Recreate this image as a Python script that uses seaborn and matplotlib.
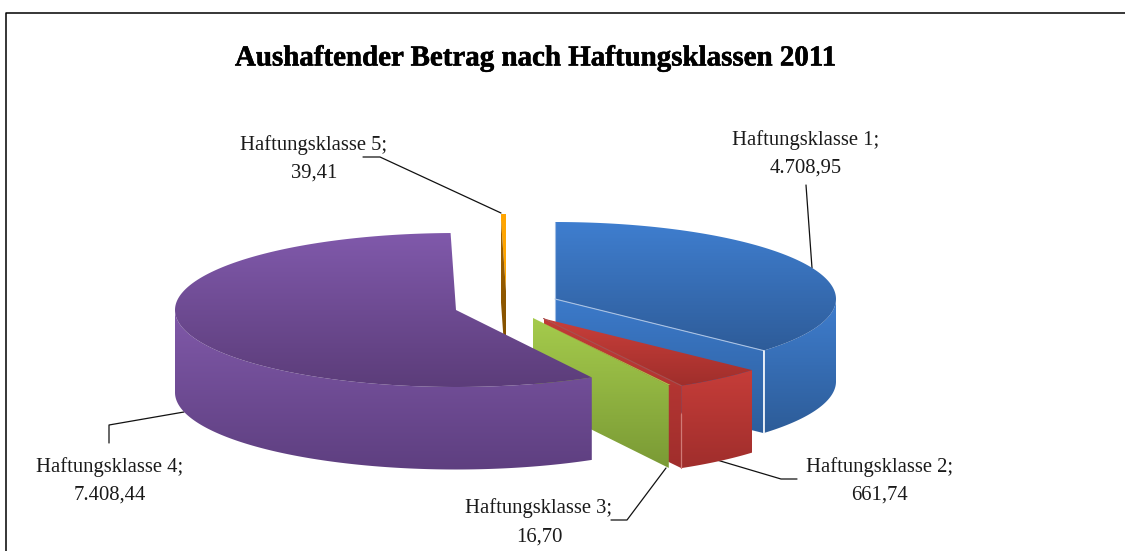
#!/usr/bin/env python3
"""Aushaftender Betrag nach Haftungsklassen 2011 - exploded 3D pie"""

import numpy as np
import matplotlib
matplotlib.use('Agg')
import matplotlib.pyplot as plt
import matplotlib.patheffects as pe
from matplotlib.patches import Polygon
import seaborn as sns

# Data
klassen = ['Haftungsklasse 1', 'Haftungsklasse 2', 'Haftungsklasse 3', 'Haftungsklasse 4', 'Haftungsklasse 5']
betrag = [4708.95, 661.74, 16.70, 7408.44, 39.41]
titel = 'Aushaftender Betrag nach Haftungsklassen 2011'

# Pie geometry in pixels
RX, RY, DEPTH = 281, 77, 82.5
CENTER = (504, 306)
OFFSETS = [(51, -7), (39.5, 12.5), (29, 12), (-48, 4), (2, -15)]

# (top start, top end), (wall start, wall end), (face start, face end)
SHADES = [
    (('#3f7ecf', '#2e5c99'), ('#3f7ecf', '#2d5c98'), ('#3c7aca', '#2d5e9c')),
    (('#c93f3a', '#a02e2b'), ('#c63d39', '#a02e2c'), ('#c23b37', '#a02e2c')),
    (('#a5cb4c', '#a5cb4c'), ('#a5cb4c', '#7a9a35'), ('#a5cb4c', '#7a9a35')),
    (('#8059ab', '#5c3d7a'), ('#8059a9', '#5e3f80'), ('#74549a', '#5e3f80')),
    (('#ffa500', '#ffa500'), ('#ffa500', '#7a4b00'), ('#a56500', '#7a4b00')),
]
# which radial edge shows its cut face
FACE_AT_END = [True, True, True, None, False]


def shaded(ax, pts, colors, z):
    """Fill a polygon with a vertical gradient"""
    pts = np.asarray(pts)
    cmap = sns.blend_palette(colors, as_cmap=True)
    grad = np.linspace(0, 1, 128).reshape(-1, 1)
    x0, y0 = pts.min(axis=0)
    x1, y1 = pts.max(axis=0)
    im = ax.imshow(grad, extent=[x0, x1 + 0.01, y1 + 0.01, y0], cmap=cmap, aspect='auto', zorder=z)
    im.set_clip_path(Polygon(pts, transform=ax.transData))


def rim(apex, deg):
    a = np.radians(deg)
    return np.column_stack([apex[0] + RX * np.sin(a), apex[1] - RY * np.cos(a)])


def draw_slice(ax, i, a0, a1, z):
    apex = (CENTER[0] + OFFSETS[i][0], CENTER[1] + OFFSETS[i][1])
    arc = rim(apex, np.linspace(a0, a1, 200))
    top_col, wall_col, face_col = SHADES[i]

    # outer wall only on the front half of the pie, slivers have none
    lo, hi = max(a0, 90), min(a1, 270)
    if hi - lo > 1:
        w = rim(apex, np.linspace(lo, hi, 200))
        shaded(ax, np.vstack([w, (w + [0, DEPTH])[::-1]]), wall_col, z)

    # cut face
    if FACE_AT_END[i] is not None:
        p = rim(apex, np.array([a1 if FACE_AT_END[i] else a0]))[0]
        face = [apex, p, p + [0, DEPTH], (apex[0], apex[1] + DEPTH)]
        if FACE_AT_END[i]:
            shaded(ax, face, face_col, z + 0.1)

    shaded(ax, np.vstack([[apex], arc]), top_col, z + 0.2)

    if FACE_AT_END[i] is False:
        shaded(ax, face, face_col, z + 0.3)
    return apex, arc


def main():
    sns.set_theme(style='white')
    plt.rcParams['font.family'] = ['Liberation Serif', 'DejaVu Serif']

    fig = plt.figure(figsize=(11.25, 5.51), dpi=100)
    ax = fig.add_axes([0, 0, 1, 1])

    # slices, clockwise from twelve o'clock
    edges = np.concatenate([[0], np.cumsum(betrag)]) / np.sum(betrag) * 360
    order = [4, 0, 1, 2, 3]
    apexes = {}
    for z, i in enumerate(order):
        apexes[i] = draw_slice(ax, i, edges[i], edges[i + 1], 2 + z)

    ax.set_xlim(0, 1125)
    ax.set_ylim(551, 0)
    ax.axis('off')

    # light edges on the blue and red slices
    blue, blue_arc = apexes[0]
    blue_end = blue_arc[-1]
    ax.plot([blue[0], blue[0]], [blue[1] - RY, blue[1] + 25], color='#9fbce3', lw=0.8, zorder=3.95)
    ax.plot([blue[0], blue_end[0]], [blue[1], blue_end[1]], color='#a9c2e4', lw=0.8, zorder=3.95)
    ax.plot([blue_end[0], blue_end[0]], [blue_end[1], blue_end[1] + DEPTH], color='#f0f4fa', lw=1.3, zorder=3.95)
    red, red_arc = apexes[1]
    red_end = red_arc[-1]
    ax.plot([red[0], red_end[0]], [red[1], red_end[1]], color='#a8504f', lw=0.8, zorder=4.95)
    ax.plot([red_end[0], red_end[0]], [red_end[1] + 28, red_end[1] + DEPTH], color='#d07a76', lw=0.9, zorder=4.95)

    # chart frame
    ax.plot([6, 6, 1125], [551, 12.5, 12.5], color='black', lw=1.1, zorder=1)

    # leader lines
    leaders = [
        ([806, 812], [185, 268]),
        ([797, 781, 717], [479, 479, 460]),
        ([611, 627, 666], [520, 520, 468]),
        ([109, 109, 184], [443, 425, 412]),
        ([363, 380, 501], [157, 157, 213]),
    ]
    for xs, ys in leaders:
        ax.plot(xs, ys, color='#111111', lw=0.9, zorder=1)

    # data labels
    label_pos = [(806, 154), (880, 481), (539, 522.5), (110, 481), (314, 159)]
    for name, val, (x, y) in zip(klassen, betrag, label_pos):
        wert = f'{val:,.2f}'.replace(',', 'X').replace('.', ',').replace('X', '.')
        ax.text(x, y, f'{name};\n{wert}', ha='center', va='center', fontsize=14.85, color='#1a1a1a', linespacing=1.64, zorder=10)

    t = ax.text(536, 58, titel, ha='center', va='center', fontsize=20.85, fontweight='bold', color='black', zorder=10)
    t.set_path_effects([pe.withStroke(linewidth=0.4, foreground='black')])

    fig.savefig('out.png', dpi=100)


if __name__ == "__main__":
    main()
